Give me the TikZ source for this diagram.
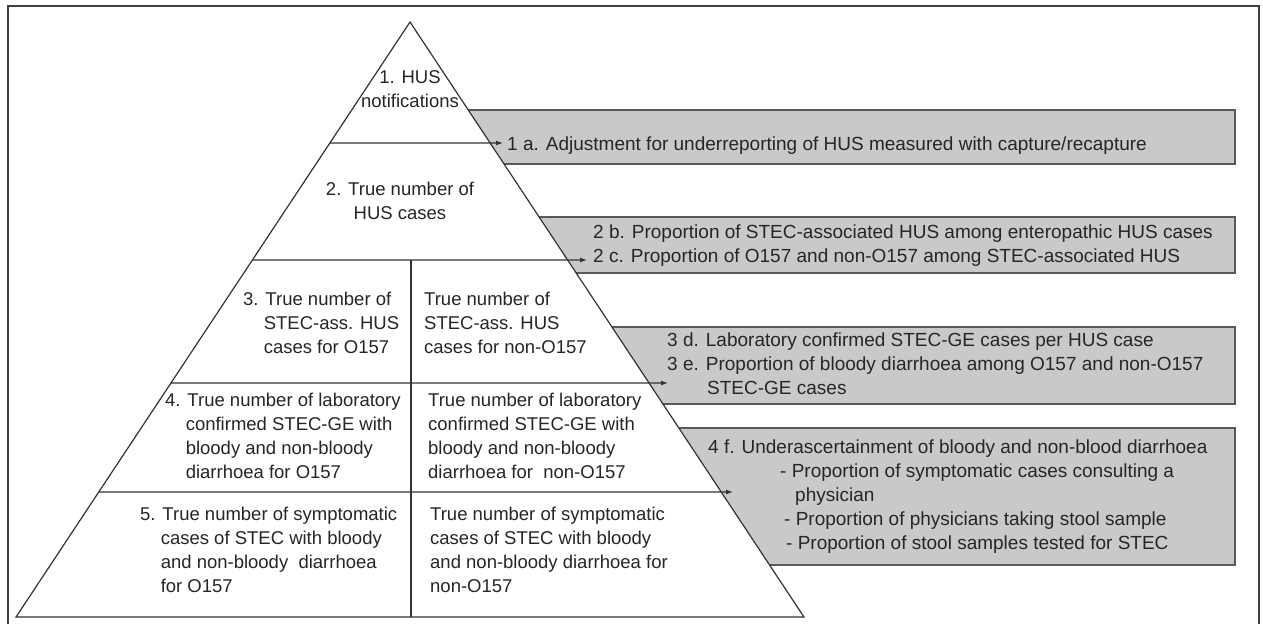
\documentclass[tikz,border=0pt]{standalone}
\usepackage{fontspec}
\setmainfont{Liberation Sans}
\usetikzlibrary{arrows.meta, calc}
\newcommand{\lbl}{\fontsize{18.5}{24}\selectfont}
\newcommand{\parlbl}{\fontsize{19}{24}\selectfont}

\begin{document}
\begin{tikzpicture}[x=1pt, y=-1pt,
        txt/.style={font=\lbl, text=black!85, inner sep=0pt, align=left, anchor=north west, execute at begin node=\strut},
        partxt/.style={txt, font=\parlbl},
        parambox/.style={draw=black!65, line width=1.6pt, fill=black!21},
        tier/.style={draw=black!80, line width=1.2pt},
        toparam/.style={tier, -{Latex[length=7pt, width=5pt]}}]
    \useasboundingbox (0,0) rectangle (1263,624);
    \draw[black!75, line width=1.5pt] (8,624) -- (8,6) -- (1259,6) -- (1259,624);

    % parameter boxes (left ends hidden by the pyramid)
    \draw[parambox] (440,110) rectangle (1235,164);
    \draw[parambox] (500,217) rectangle (1235,273);
    \draw[parambox] (580,327) rectangle (1235,404);
    \draw[parambox] (650,428) rectangle (1235,565);

    % pyramid
    \coordinate (apex) at (410,22);
    \coordinate (bl) at (16,617);
    \coordinate (br) at (804,617);
    \draw[tier, fill=white] (apex) -- (bl) -- (br) -- cycle;
    \coordinate (e1) at ($(apex)!0.2034!(bl)$);
    \coordinate (e2) at ($(apex)!0.4!(bl)$);
    \coordinate (e3) at ($(apex)!0.6067!(bl)$);
    \coordinate (e4) at ($(apex)!0.7899!(bl)$);
    \coordinate (t1) at (503,143);
    \coordinate (t2) at (587,260);
    \coordinate (t3) at (668,383);
    \coordinate (t4) at (733,492);
    \draw[toparam] (e1) -- (t1);
    \draw[toparam] (e2) -- (t2);
    \draw[toparam] (e3) -- (t3);
    \draw[toparam] (e4) -- (t4);
    \coordinate (d1) at (411,260);
    \coordinate (d2) at (411,617);
    \draw[tier] (d1) -- (d2);

    % tiers
    \node[txt, anchor=north, align=center] (hus) at (410,70) {1. HUS\\notifications};
    \node[txt, anchor=north, align=center] (huscases) at (400,182) {2. True number of\\HUS cases};
    \node[txt] (ass157) at (243,292) {3. True number of\\\phantom{3.~}STEC-ass. HUS\\\phantom{3.~}cases for O157};
    \node[txt] (assnon) at (424,292) {True number of\\STEC-ass. HUS\\cases for non-O157};
    \node[txt] (lab157) at (165,393) {4. True number of laboratory\\\phantom{4.~}confirmed STEC-GE with\\\phantom{4.~}bloody and non-bloody\\\phantom{4.~}diarrhoea for O157};
    \node[txt] (labnon) at (428,393) {True number of laboratory\\confirmed STEC-GE with\\bloody and non-bloody\\diarrhoea for~~non-O157};
    \node[txt] (sym157) at (140,507) {5. True number of symptomatic\\\phantom{5.~}cases of STEC with bloody\\\phantom{5.~}and non-bloody~~diarrhoea\\\phantom{5.~}for O157};
    \node[txt] (symnon) at (430,507) {True number of symptomatic\\cases of STEC with bloody\\and non-bloody diarrhoea for\\non-O157};

    % parameters
    \node[partxt] (adj) at (507,133) {1 a. Adjustment for underreporting of HUS measured with capture/recapture};
    \node[partxt] (prop) at (593,225) {2 b. Proportion of STEC-associated HUS among enteropathic HUS cases\\2 c. Proportion of O157 and non-O157 among STEC-associated HUS};
    \node[partxt] (labconf) at (667,333) {3 d. Laboratory confirmed STEC-GE cases per HUS case\\3 e. Proportion of bloody diarrhoea among O157 and non-O157\\\hspace*{40pt}STEC-GE cases};
    \node[partxt] (under) at (708,440) {4 f. Underascertainment of bloody and non-blood diarrhoea\\\hspace*{72pt}- Proportion of symptomatic cases consulting a\\\hspace*{87pt}physician\\\hspace*{76pt}- Proportion of physicians taking stool sample\\\hspace*{78pt}- Proportion of stool samples tested for STEC};
\end{tikzpicture}
\end{document}
